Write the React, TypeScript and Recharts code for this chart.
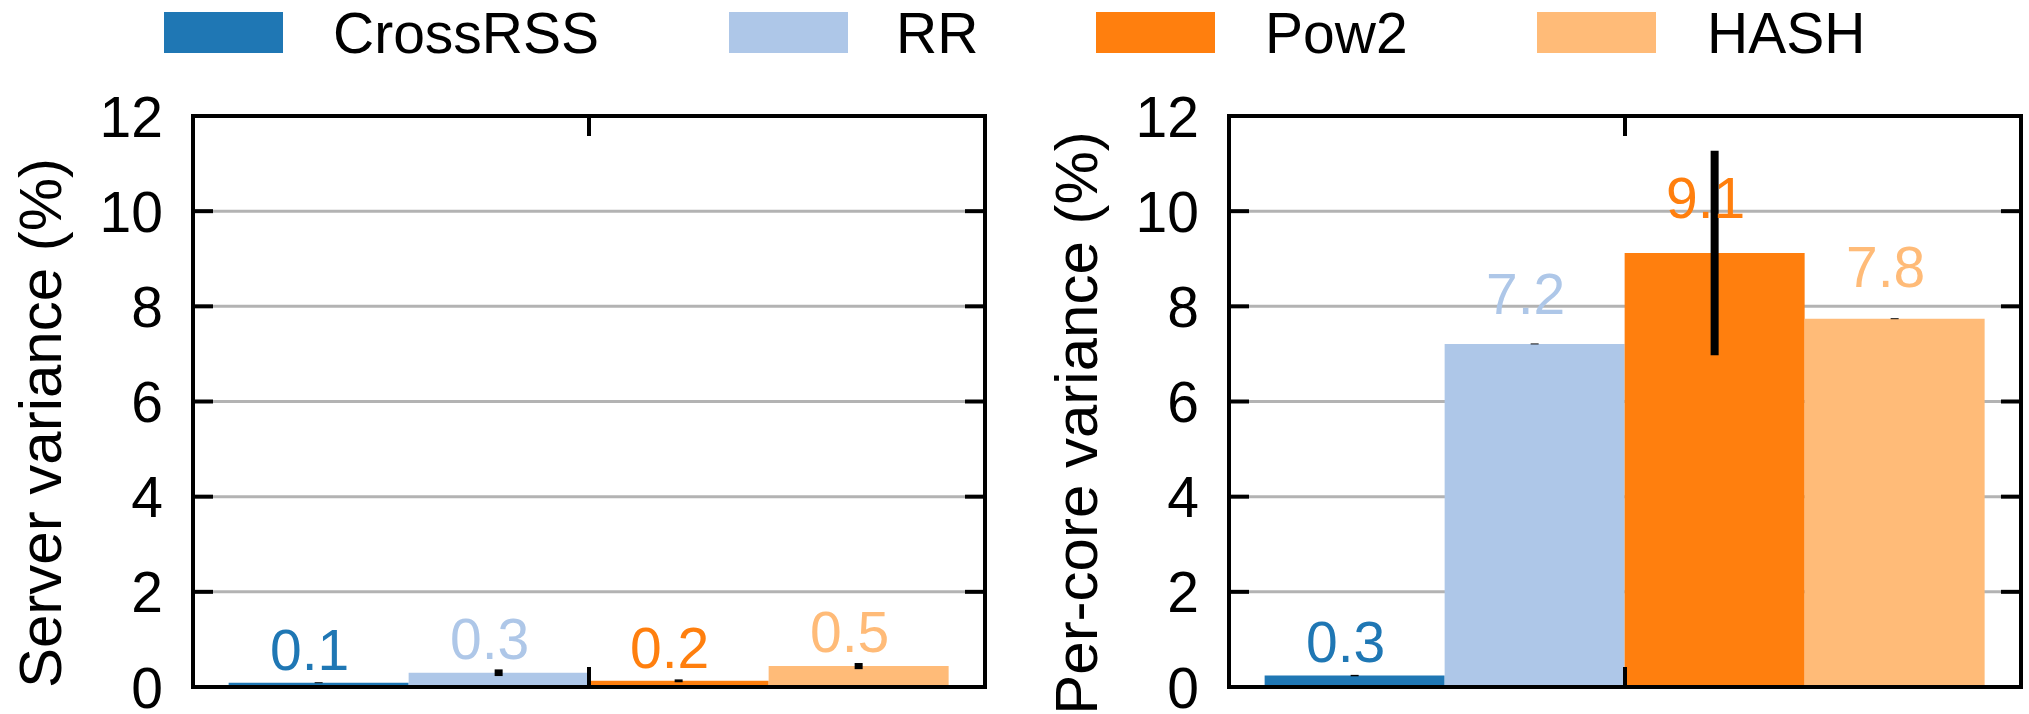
import React from 'react';
import { BarChart, Bar, XAxis, YAxis, CartesianGrid, ErrorBar, LabelList } from 'recharts';

const seriesNames = ['CrossRSS', 'RR', 'Pow2', 'HASH'];
const seriesColors = ['#1f77b4', '#aec7e8', '#ff7f0e', '#ffbb78'];
const yTicks = [0, 2, 4, 6, 8, 10, 12];

const serverValues = [0.09, 0.3, 0.13, 0.44];
const serverErrors = [0.01, 0.07, 0.03, 0.065];
const serverLabels = ['0.1', '0.3', '0.2', '0.5'];

const perCoreValues = [0.24, 7.21, 9.12, 7.74];
const perCoreErrors = [0.015, 0.01, 2.15, 0.01];
const perCoreLabels = ['0.3', '7.2', '9.1', '7.8'];

const panelTitles = ['Server variance (%)', 'Per-core variance (%)'];

const FONT = '"Liberation Sans", Arial, Helvetica, sans-serif';
const FS = 57;
const TITLE_FS = 60;
const CH_W = 990;
const CH_H = 714;
const MARGIN = { top: 116, right: 5, bottom: 0, left: 0 };
const YW = 193;
const XH = 27;
const PLOT_W = CH_W - MARGIN.left - MARGIN.right - YW;
const PLOT_H = CH_H - MARGIN.top - MARGIN.bottom - XH;
const TICK_LEN = 20;
const LINE_W = 4;

const legendSwatchX = [164, 729, 1096, 1537];
const legendTextX = [333, 896, 1265, 1707];

function yTick(p: any) {
  const ax = p.x + 30;
  const isBottom = p.payload.value === 0;
  return (
    <g>
      <text x={p.x} y={p.y} dy="0.36em" textAnchor="end" fontSize={FS} fontFamily={FONT} fill="#000">
        {p.payload.value}
      </text>
      <line x1={ax} x2={ax + TICK_LEN} y1={p.y} y2={p.y} stroke="#000" strokeWidth={LINE_W} />
      <line x1={ax + PLOT_W - TICK_LEN} x2={ax + PLOT_W} y1={p.y} y2={p.y} stroke="#000" strokeWidth={LINE_W} />
      {isBottom ? (
        <rect
          x={ax}
          y={p.y - PLOT_H}
          width={PLOT_W}
          height={PLOT_H}
          fill="none"
          stroke="#000"
          strokeWidth={LINE_W}
        />
      ) : null}
    </g>
  );
}

function xTickBottom(p: any) {
  return (
    <g>
      <line x1={p.x} x2={p.x} y1={p.y} y2={p.y - TICK_LEN} stroke="#000" strokeWidth={LINE_W} />
      <line x1={p.x} x2={p.x} y1={p.y - PLOT_H} y2={p.y - PLOT_H + TICK_LEN} stroke="#000" strokeWidth={LINE_W} />
    </g>
  );
}

function makeLabel(color: string) {
  return (p: any) => {
    const vb = p.viewBox && p.viewBox.width !== undefined ? p.viewBox : { x: p.x, y: p.y, width: p.width, height: p.height };
    const h = Math.abs(vb.height || 0);
    const top = (vb.height || 0) >= 0 ? vb.y : vb.y + vb.height;
    const cx = vb.x + vb.width / 2 - 9;
    const y = top - (13 + 0.05 * h);
    return (
      <text x={cx} y={y} textAnchor="middle" fontSize={FS} fontFamily={FONT} fill={color}>
        {p.value}
      </text>
    );
  };
}

function Panel({ values, errors, labels, title }: any) {
  const row: any = { name: 'all' };
  seriesNames.forEach((n, i) => {
    row[n] = values[i];
    row[n + '_err'] = errors[i];
    row[n + '_label'] = labels[i];
  });
  const data = [row];
  const titleX = 61;
  const titleY = 423;
  return (
    <BarChart width={CH_W} height={CH_H} data={data} margin={MARGIN} barCategoryGap="4.5%" barGap={0}>
      <CartesianGrid vertical={false} stroke="#b3b3b3" strokeWidth={3} />
      {seriesNames.map((n, i) => (
        <Bar key={n} dataKey={n} fill={seriesColors[i]} isAnimationActive={false}>
          <ErrorBar dataKey={n + '_err'} width={0} strokeWidth={8} stroke="#000" direction="y" isAnimationActive={false} />
          <LabelList dataKey={n + '_label'} content={makeLabel(seriesColors[i])} />
        </Bar>
      ))}
      <XAxis
        dataKey="name"
        height={XH}
        axisLine={false}
        tickLine={false}
        tickSize={0}
        tickMargin={0}
        interval={0}
        tick={xTickBottom}
      />
      <YAxis
        type="number"
        domain={[0, 12]}
        ticks={yTicks}
        interval={0}
        width={YW}
        axisLine={false}
        tickLine={false}
        tickSize={0}
        tickMargin={30}
        tick={yTick}
        label={{
          content: () => (
            <text
              x={titleX}
              y={titleY}
              textAnchor="middle"
              fontSize={TITLE_FS}
              fontFamily={FONT}
              fill="#000"
              transform={`rotate(-90, ${titleX}, ${titleY})`}
            >
              {title}
            </text>
          ),
        }}
      />
    </BarChart>
  );
}

function Legend4() {
  return (
    <svg width={2029} height={80} style={{ position: 'absolute', left: 0, top: 0 }}>
      {seriesNames.map((n, i) => (
        <g key={n}>
          <rect x={legendSwatchX[i]} y={12} width={119} height={41} fill={seriesColors[i]} />
          <text x={legendTextX[i]} y={53} fontSize={FS} fontFamily={FONT} fill="#000">
            {n}
          </text>
        </g>
      ))}
    </svg>
  );
}

export default function App() {
  return (
    <div style={{ position: 'relative', width: 2029, height: 714, overflow: 'hidden', background: '#fff' }}>
      <style>{'body{margin:0}'}</style>
      <div style={{ position: 'absolute', left: 0, top: 0 }}>
        <Panel values={serverValues} errors={serverErrors} labels={serverLabels} title={panelTitles[0]} />
      </div>
      <div style={{ position: 'absolute', left: 1036, top: 0 }}>
        <Panel values={perCoreValues} errors={perCoreErrors} labels={perCoreLabels} title={panelTitles[1]} />
      </div>
      <Legend4 />
    </div>
  );
}
